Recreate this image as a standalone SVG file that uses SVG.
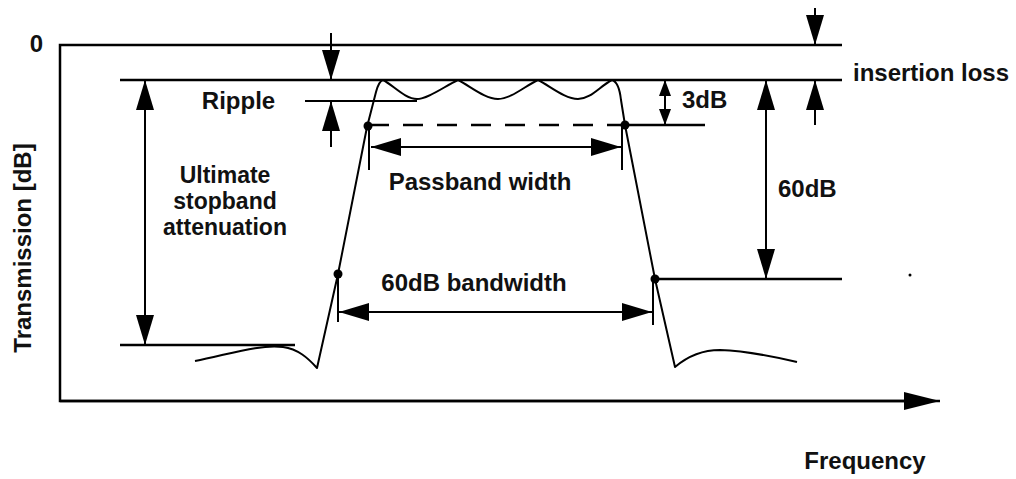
<svg xmlns="http://www.w3.org/2000/svg" width="1016" height="479" viewBox="0 0 1016 479">
<style>
.ln{stroke:#000;stroke-width:2.5;fill:none}
.cv{stroke:#000;stroke-width:2;fill:none;stroke-linejoin:round}
.th{stroke:#000;stroke-width:2;fill:none}
.dash{stroke:#000;stroke-width:2.5;fill:none;stroke-dasharray:20 14}
.t{font-family:"Liberation Sans",Arial,Helvetica,sans-serif;font-weight:bold;font-size:24px;fill:#111}
.s{font-size:23px}
.dot{fill:#000}
</style>
<defs>
<marker id="ah" markerUnits="userSpaceOnUse" markerWidth="30" markerHeight="18" refX="30" refY="9" orient="auto">
<path d="M0,0 L30,9 L0,18 z" fill="#000"/>
</marker>
<marker id="ahs" markerUnits="userSpaceOnUse" markerWidth="16" markerHeight="12" refX="16" refY="6" orient="auto">
<path d="M0,0 L16,6 L0,12 z" fill="#000"/>
</marker>
<marker id="ahx" markerUnits="userSpaceOnUse" markerWidth="36" markerHeight="18" refX="36" refY="9" orient="auto">
<path d="M0,0 L36,9 L0,18 z" fill="#000"/>
</marker>
</defs>

<g id="axes">
<path class="ln" d="M842,45 L60,45 L60,401 L906,401"/>
<line class="ln" x1="60" y1="401" x2="940" y2="401" marker-end="url(#ahx)"/>
</g>

<g id="reference-lines">
<line class="ln" x1="120" y1="80" x2="842" y2="80"/>
<line class="th" x1="305" y1="101" x2="417" y2="101"/>
<line class="dash" x1="369" y1="125" x2="624" y2="125"/>
<line class="ln" x1="625" y1="125" x2="705" y2="125"/>
<line class="ln" x1="655" y1="279" x2="842" y2="279"/>
<line class="ln" x1="120" y1="345" x2="295" y2="345"/>
<line class="th" x1="369" y1="125" x2="369" y2="170"/>
<line class="th" x1="622" y1="125" x2="622" y2="170"/>
<line class="th" x1="338" y1="274" x2="338" y2="322"/>
<line class="th" x1="653" y1="279" x2="653" y2="325"/>
</g>

<g id="response-curve">
<path class="cv" d="M195,361 C230,354 260,344 283,347 C298,349 308,358 317,368 L338,274 L367,127 L376,92 Q379,81 383,80 C393,85 405,99 417,99 C428,99 445,86 458,80 C470,86 485,99 498,99 C511,99 525,86 538,80 C550,86 565,99 578,99 C591,99 600,86 612,80 Q619,82 621,100 L625,125 L655,279 L675,367 Q695,350 720,350 Q750,351 797,362"/>
<circle class="dot" cx="368" cy="126" r="4.5"/>
<circle class="dot" cx="625" cy="125" r="4.5"/>
<circle class="dot" cx="338" cy="274" r="4.5"/>
<circle class="dot" cx="655" cy="279" r="4.5"/>
<circle class="dot" cx="910" cy="275" r="1.5"/>
</g>

<g id="connectors">
<line class="th" x1="331" y1="33" x2="331" y2="80" marker-end="url(#ah)"/>
<line class="th" x1="331" y1="147" x2="331" y2="101" marker-end="url(#ah)"/>
<line class="th" x1="815" y1="8" x2="815" y2="45" marker-end="url(#ah)"/>
<line class="th" x1="815" y1="125" x2="815" y2="80" marker-end="url(#ah)"/>
<line class="th" x1="145" y1="212" x2="145" y2="80" marker-end="url(#ah)"/>
<line class="th" x1="145" y1="212" x2="145" y2="345" marker-end="url(#ah)"/>
<line class="th" x1="766" y1="180" x2="766" y2="80" marker-end="url(#ah)"/>
<line class="th" x1="766" y1="180" x2="766" y2="279" marker-end="url(#ah)"/>
<line class="th" x1="665" y1="102" x2="665" y2="80" marker-end="url(#ahs)"/>
<line class="th" x1="665" y1="102" x2="665" y2="125" marker-end="url(#ahs)"/>
<line class="th" x1="495" y1="147" x2="371" y2="147" marker-end="url(#ah)"/>
<line class="th" x1="495" y1="147" x2="621" y2="147" marker-end="url(#ah)"/>
<line class="th" x1="495" y1="312" x2="339" y2="312" marker-end="url(#ah)"/>
<line class="th" x1="495" y1="312" x2="652" y2="312" marker-end="url(#ah)"/>
</g>

<g id="labels">
<text class="t" x="36.5" y="52" text-anchor="middle">0</text>
<text class="t" x="238.5" y="109" text-anchor="middle">Ripple</text>
<text class="t s" x="225" y="183" text-anchor="middle">Ultimate</text>
<text class="t s" x="225" y="209" text-anchor="middle">stopband</text>
<text class="t s" x="225" y="235" text-anchor="middle">attenuation</text>
<text class="t" x="480" y="190" text-anchor="middle">Passband width</text>
<text class="t" x="474" y="291" text-anchor="middle">60dB bandwidth</text>
<text class="t" x="682" y="108">3dB</text>
<text class="t" x="778" y="197">60dB</text>
<text class="t" x="853" y="81">insertion loss</text>
<text class="t" x="865" y="469" text-anchor="middle">Frequency</text>
<text class="t" x="0" y="0" text-anchor="middle" transform="translate(31,248) rotate(-90)">Transmission [dB]</text>
</g>
</svg>
